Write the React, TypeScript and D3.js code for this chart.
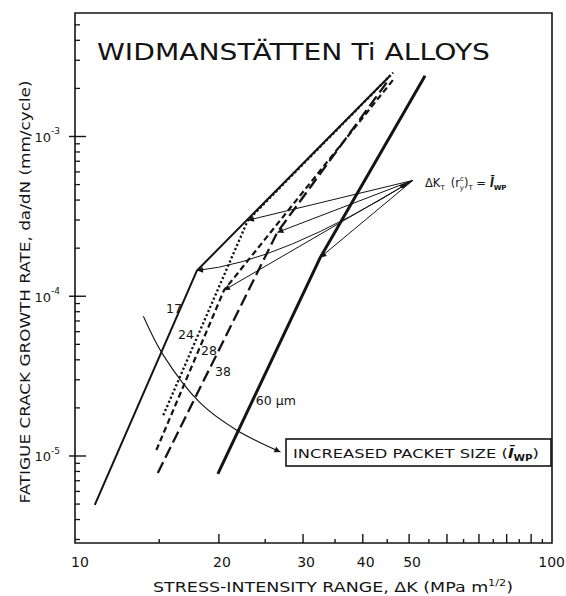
import React from "react";
import * as d3 from "d3";

// ---- data (log-log) ----
const packetLabels = ["17", "24", "28", "38", "60 µm"];
// ΔK (MPa m^1/2): start, transition ΔK_T, end
const deltaK17 = [11.0, 18.0, 45.6];
const deltaK24 = [15.3, 23.0, 46.3];
const deltaK28 = [14.8, 20.5, 46.5];
const deltaK38 = [14.9, 26.5, 45.2];
const deltaK60 = [19.9, 32.6, 54.0];
// da/dN (mm/cycle)
const rate17 = [4.94e-6, 1.45e-4, 2.4e-3];
const rate24 = [1.8e-5, 2.99e-4, 2.51e-3];
const rate28 = [1.09e-5, 1.09e-4, 2.3e-3];
const rate38 = [7.83e-6, 2.51e-4, 2.24e-3];
const rate60 = [7.72e-6, 1.75e-4, 2.4e-3];

// label anchor points (ΔK, da/dN) – left edge of each label
const labelK = [15.5, 16.43, 18.35, 19.63, 23.9];
const labelR = [8.41e-5, 5.79e-5, 4.6e-5, 3.4e-5, 2.24e-5];

// ΔK_T annotation source point
const noteK = 50.9;
const noteR = 5.31e-4;

// "increased packet size" arrow path
const packetArrowK = [13.9, 15.3, 18.3, 21.8, 26.9];
const packetArrowR = [7.5e-5, 4.28e-5, 2.14e-5, 1.45e-5, 1.06e-5];

const xMajor = [20, 30, 40, 50, 60, 70, 80, 90];
const xMinor = [15, 25, 35, 45, 55, 65, 75, 85, 95];
const xTickLabels = [
  { v: 10, t: "10" },
  { v: 20, t: "20" },
  { v: 30, t: "30" },
  { v: 40, t: "40" },
  { v: 50, t: "50" },
  { v: 100, t: "100" },
];
const yMajor = [1e-5, 1e-4, 1e-3];
const yTickExp = ["-5", "-4", "-3"];

const INK = "#141414";
const FONT = "'DejaVu Sans', 'Liberation Sans', sans-serif";

export default function App() {
  const W = 566;
  const H = 596;
  const left = 75,
    right = 553,
    top = 13,
    bottom = 543;

  const x = d3.scaleLog().domain([10, 100]).range([left, right]);
  const y = d3.scaleLog().domain([2.853e-6, 5.93e-3]).range([bottom, top]);

  const series = [
    { k: deltaK17, r: rate17, w: 2.0, dash: undefined as string | undefined },
    { k: deltaK24, r: rate24, w: 2.3, dash: "2.2,2.3" },
    { k: deltaK28, r: rate28, w: 2.2, dash: "6,3.5" },
    { k: deltaK38, r: rate38, w: 2.3, dash: "12,5" },
    { k: deltaK60, r: rate60, w: 3.0, dash: undefined },
  ];

  const line = d3
    .line<[number, number]>()
    .x((d) => x(d[0]))
    .y((d) => y(d[1]));

  const arrowLine = d3
    .line<[number, number]>()
    .x((d) => x(d[0]))
    .y((d) => y(d[1]))
    .curve(d3.curveCatmullRom.alpha(0.5));

  // y minor ticks
  const yMinor: number[] = [];
  [1e-6, 1e-5, 1e-4, 1e-3].forEach((dec) => {
    for (let m = 2; m <= 9; m++) {
      const v = m * dec;
      if (v > 2.9e-6 && v < 5.9e-3) yMinor.push(v);
    }
  });

  const nx = x(noteK);
  const ny = y(noteR);

  const transitionArrows = series.map((s, i) => {
    const kx = x(s.k[1]);
    const ky = y(s.r[1]);
    if (i === 0) {
      const cx = kx + 0.384 * (nx - kx);
      const cy = ky - 0.089 * (ky - ny);
      return `M${nx},${ny} Q${cx},${cy} ${kx},${ky}`;
    }
    return `M${nx},${ny} L${kx},${ky}`;
  });

  const packetPts: [number, number][] = packetArrowK.map((k, i) => [k, packetArrowR[i]]);

  return (
    <svg
      width={W}
      height={H}
      viewBox={`0 0 ${W} ${H}`}
      style={{ position: "absolute", left: 0, top: 0, background: "#fff" }}
      fontFamily={FONT}
    >
      <defs>
        <marker
          id="ah"
          viewBox="0 0 10 10"
          refX="10"
          refY="5"
          markerWidth="9"
          markerHeight="6"
          markerUnits="userSpaceOnUse"
          orient="auto"
        >
          <path d="M0,0 L10,5 L0,10 Z" fill={INK} />
        </marker>
      </defs>
      <rect x={0} y={0} width={W} height={H} fill="#fff" />

      {/* frame */}
      <path
        d={`M${left},${top} L${right - 1},${top} L${right - 1},${bottom} L${left},${bottom} Z`}
        fill="none"
        stroke={INK}
        strokeWidth={1.6}
      />

      {/* x ticks */}
      {xMajor.map((v) => (
        <line key={"xM" + v} x1={x(v)} x2={x(v)} y1={bottom} y2={bottom - 9} stroke={INK} strokeWidth={1.4} />
      ))}
      {xMinor.map((v) => (
        <line key={"xm" + v} x1={x(v)} x2={x(v)} y1={bottom} y2={bottom - 4} stroke={INK} strokeWidth={1.4} />
      ))}
      {xTickLabels.map((d) => (
        <text
          key={"xl" + d.v}
          x={d.v === 100 ? 565 : x(d.v) + (d.v === 10 ? 5 : 3)}
          y={567}
          textAnchor={d.v === 100 ? "end" : "middle"}
          fontSize={14}
          fill={INK}
        >
          {d.t}
        </text>
      ))}

      {/* y ticks */}
      {yMajor.map((v, i) => (
        <g key={"yM" + v}>
          <line x1={left - 6} x2={left + 11} y1={y(v)} y2={y(v)} stroke={INK} strokeWidth={1.4} />
          <text x={51} y={y(v) + 5.5} textAnchor="end" fontSize={13} fill={INK}>
            10
          </text>
          <text x={51} y={y(v) - 2} fontSize={9} fill={INK}>
            {yTickExp[i]}
          </text>
        </g>
      ))}
      {yMinor.map((v) => (
        <line key={"ym" + v} x1={left} x2={left + 5} y1={y(v)} y2={y(v)} stroke={INK} strokeWidth={1.3} />
      ))}

      {/* title */}
      <text x={97} y={60} fontSize={23} fill={INK} textLength={393} lengthAdjust="spacingAndGlyphs">
        WIDMANSTÄTTEN Ti ALLOYS
      </text>

      {/* series */}
      {series.map((s, i) => (
        <path
          key={"s" + i}
          d={line(s.k.map((k, j) => [k, s.r[j]]) as [number, number][]) || ""}
          fill="none"
          stroke={INK}
          strokeWidth={s.w}
          strokeDasharray={s.dash}
          strokeLinejoin="round"
        />
      ))}

      {/* transition arrows */}
      {transitionArrows.map((d, i) => (
        <path key={"ta" + i} d={d} fill="none" stroke={INK} strokeWidth={1} markerEnd="url(#ah)" />
      ))}
      <path d={`M${nx - 14},${ny + 5} L${nx},${ny} L${nx - 10},${ny + 8} Z`} fill={INK} />

      {/* ΔK_T annotation */}
      <text x={425} y={187} fontSize={11.5} fill={INK}>
        ΔK
        <tspan fontSize={7} dy={3}>T</tspan>
        <tspan dy={-3} dx={6}>(r</tspan>
        <tspan fontSize={7} dy={-6}>c</tspan>
        <tspan fontSize={7} dy={9} dx={-4}>y</tspan>
        <tspan dy={-3}>)</tspan>
        <tspan fontSize={7} dy={3}>T</tspan>
        <tspan dy={-3}> = </tspan>
        <tspan fontStyle="italic" fontWeight="bold">l̄</tspan>
        <tspan fontSize={7} dy={3} fontWeight="bold">WP</tspan>
      </text>

      {/* packet size labels */}
      {packetLabels.map((t, i) => (
        <text key={"pl" + i} x={x(labelK[i])} y={y(labelR[i]) + 5} textAnchor="start" fontSize={12.5} fill={INK}>
          {t}
        </text>
      ))}

      {/* increased packet size arrow */}
      <path d={arrowLine(packetPts) || ""} fill="none" stroke={INK} strokeWidth={1.1} markerEnd="url(#ah)" />
      <rect x={286} y={439} width={265} height={27} fill="#fff" stroke={INK} strokeWidth={1.6} />
      <text x={293} y={457.5} fontSize={12.5} fill={INK} textLength={246} lengthAdjust="spacingAndGlyphs">
        INCREASED PACKET SIZE (
        <tspan fontStyle="italic" fontWeight="bold">l̄</tspan>
        <tspan fontSize={8} dy={3} fontWeight="bold">WP</tspan>
        <tspan dy={-3}>)</tspan>
      </text>

      {/* axis titles */}
      <text x={153} y={592} fontSize={14} fill={INK} textLength={360} lengthAdjust="spacingAndGlyphs">
        STRESS-INTENSITY RANGE, ΔK (MPa m
        <tspan fontSize={9} dy={-6}>1/2</tspan>
        <tspan dy={6}>)</tspan>
      </text>
      <text
        transform="translate(30,292) rotate(-90)"
        textAnchor="middle"
        fontSize={14}
        fill={INK}
        textLength={423}
        lengthAdjust="spacingAndGlyphs"
      >
        FATIGUE CRACK GROWTH RATE, da/dN (mm/cycle)
      </text>
    </svg>
  );
}
